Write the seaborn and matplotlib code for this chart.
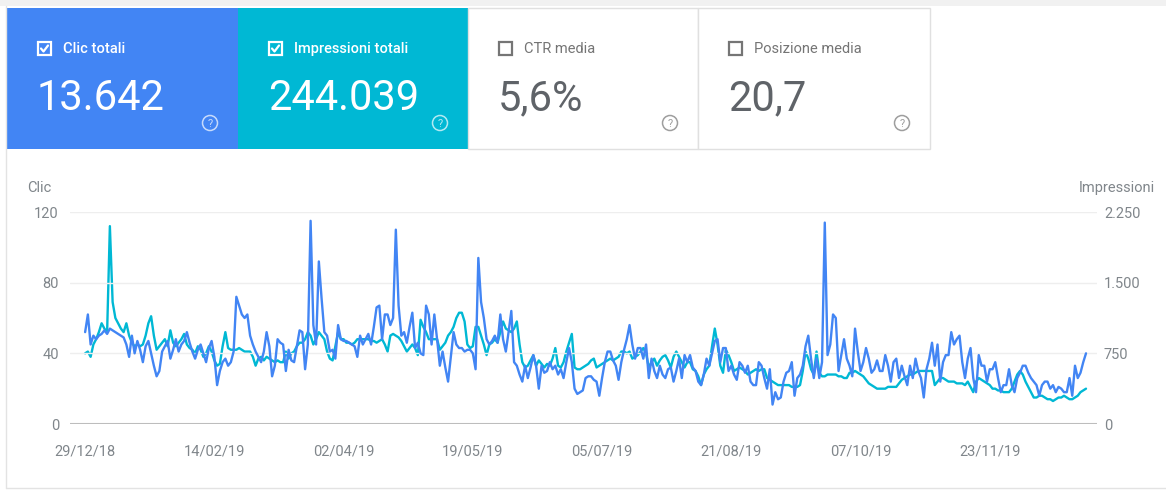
import matplotlib
matplotlib.use("Agg")
import matplotlib.pyplot as plt
from matplotlib.patches import Rectangle, Circle
import pandas as pd
import seaborn as sns

# daily series, 29/12/2018 -> 28/12/2019
start_date = "2018-12-29"

clicks = [
    52, 62, 45, 50, 48, 50, 51, 53, 51, 54,
    53, 52, 51, 50, 49, 45, 38, 50, 40, 47,
    42, 35, 44, 47, 40, 33, 27, 30, 41, 44,
    47, 37, 42, 48, 41, 45, 47, 52, 46, 41,
    37, 42, 45, 40, 35, 43, 47, 38, 22, 30,
    35, 37, 33, 35, 41, 72, 67, 62, 60, 62,
    50, 45, 41, 38, 35, 41, 52, 44, 27, 33,
    48, 46, 45, 30, 42, 36, 35, 44, 53, 52,
    31, 45, 115, 56, 45, 92, 71, 52, 50, 41,
    42, 37, 56, 48, 47, 47, 46, 45, 44, 38,
    50, 45, 48, 51, 45, 55, 66, 67, 48, 62,
    62, 56, 60, 110, 67, 50, 52, 46, 55, 63,
    43, 46, 40, 39, 67, 62, 45, 62, 48, 33,
    41, 32, 24, 38, 52, 45, 43, 43, 41, 42,
    42, 40, 31, 94, 69, 60, 48, 45, 47, 50,
    46, 62, 48, 41, 52, 64, 35, 33, 28, 24,
    33, 26, 32, 39, 33, 20, 33, 29, 30, 35,
    31, 33, 28, 31, 26, 35, 43, 35, 20, 17,
    18, 19, 26, 27, 27, 25, 24, 16, 26, 35,
    41, 41, 36, 33, 25, 35, 42, 48, 56, 45,
    37, 43, 43, 37, 45, 26, 37, 30, 26, 33,
    28, 26, 31, 32, 24, 30, 37, 26, 39, 35,
    39, 32, 30, 24, 22, 28, 37, 33, 40, 47,
    48, 35, 43, 43, 30, 33, 28, 25, 35, 33,
    29, 33, 24, 22, 22, 35, 33, 26, 20, 31,
    11, 18, 14, 15, 24, 29, 30, 35, 16, 26,
    28, 33, 44, 50, 37, 26, 37, 26, 35, 114,
    39, 45, 62, 60, 30, 39, 48, 37, 33, 27,
    54, 41, 30, 35, 43, 37, 29, 31, 36, 30,
    30, 39, 33, 24, 35, 37, 26, 33, 27, 22,
    33, 26, 37, 30, 26, 15, 31, 37, 46, 33,
    45, 24, 35, 39, 39, 52, 45, 48, 50, 35,
    26, 37, 43, 26, 18, 39, 33, 33, 24, 31,
    31, 35, 26, 18, 22, 22, 31, 22, 18, 26,
    29, 33, 33, 29, 26, 24, 22, 16, 22, 24,
    24, 20, 22, 18, 21, 20, 18, 18, 26, 16,
    33, 26, 29, 35, 40,
]

impressions = [
    750, 769, 713, 844, 900, 975, 1069, 1013, 975, 2100,
    1294, 1125, 1069, 1013, 975, 1069, 938, 863, 825, 844,
    825, 844, 938, 1069, 1144, 938, 788, 825, 863, 900,
    825, 994, 863, 825, 863, 900, 956, 844, 806, 788,
    750, 825, 788, 713, 750, 825, 769, 675, 619, 638,
    825, 975, 806, 788, 788, 788, 806, 788, 769, 769,
    769, 713, 619, 694, 713, 675, 713, 694, 675, 656,
    675, 656, 656, 769, 694, 750, 769, 825, 863, 863,
    900, 975, 938, 844, 900, 975, 938, 900, 769, 694,
    675, 825, 975, 900, 900, 863, 863, 844, 863, 900,
    900, 900, 900, 900, 881, 881, 863, 881, 900, 844,
    769, 938, 956, 938, 919, 881, 825, 769, 806, 844,
    806, 731, 1106, 1031, 975, 900, 900, 900, 900, 788,
    825, 863, 938, 975, 1031, 1125, 1181, 1181, 1088, 844,
    806, 825, 1031, 1031, 938, 844, 731, 844, 863, 900,
    863, 975, 1088, 1013, 994, 975, 1013, 1088, 844, 656,
    600, 619, 675, 731, 619, 675, 638, 600, 638, 619,
    694, 806, 619, 600, 656, 769, 863, 956, 600, 581,
    581, 600, 619, 638, 675, 694, 600, 619, 638, 656,
    675, 694, 675, 694, 713, 769, 769, 750, 769, 694,
    713, 731, 769, 806, 750, 600, 656, 694, 619, 675,
    713, 731, 675, 600, 713, 769, 713, 656, 600, 656,
    656, 581, 563, 506, 413, 525, 581, 619, 825, 1013,
    844, 619, 544, 788, 731, 656, 563, 581, 600, 581,
    563, 525, 544, 563, 581, 563, 581, 581, 488, 469,
    450, 431, 413, 413, 413, 413, 413, 394, 394, 394,
    413, 563, 769, 694, 581, 525, 769, 544, 506, 506,
    525, 525, 525, 525, 506, 506, 488, 488, 544, 544,
    563, 544, 525, 506, 469, 431, 413, 394, 375, 375,
    375, 375, 394, 394, 394, 394, 431, 469, 488, 506,
    525, 525, 544, 563, 563, 563, 563, 563, 563, 413,
    450, 488, 488, 469, 450, 450, 450, 431, 431, 431,
    413, 450, 394, 338, 450, 488, 469, 450, 431, 413,
    375, 375, 356, 356, 338, 338, 338, 375, 450, 525,
    563, 525, 450, 394, 338, 281, 281, 300, 300, 281,
    263, 263, 244, 263, 281, 281, 300, 281, 263, 263,
    281, 300, 338, 356, 375,
]

tick_dates = ["2018-12-29", "2019-02-14", "2019-04-02", "2019-05-19",
              "2019-07-05", "2019-08-21", "2019-10-07", "2019-11-23"]
tick_labels = ["29/12/18", "14/02/19", "02/04/19", "19/05/19",
               "05/07/19", "21/08/19", "07/10/19", "23/11/19"]
left_ticks = [0, 40, 80, 120]
right_ticks = [0, 750, 1500, 2250]
right_tick_labels = ["0", "750", "1.500", "2.250"]

tile_titles = ["Clic totali", "Impressioni totali", "CTR media", "Posizione media"]
tile_values = ["13.642", "244.039", "5,6%", "20,7"]
tile_checked = [True, True, False, False]

BLUE = "#4285F4"
TEAL = "#00B8D4"
GRAY = "#80868b"

sns.set_theme(style="white")
plt.rcParams["font.family"] = ["Roboto", "DejaVu Sans"]

W, H = 1166, 491
fig = plt.figure(figsize=(W / 100, H / 100), dpi=100)

# background layer in pixel coordinates for the summary tiles
bg = fig.add_axes([0, 0, 1, 1])
bg.set_xlim(0, W)
bg.set_ylim(H, 0)
bg.axis("off")

bg.add_patch(Rectangle((0, 0), W, 6, fc="#f1f1f1", ec="none"))
bg.plot([6, 6], [6, 488], color="#e3e3e3", lw=1)
bg.plot([6, W], [488, 488], color="#e3e3e3", lw=1)

edges = [7, 238, 468, 698, 930]
tile_fill = [BLUE, TEAL, "white", "white"]
for i in range(4):
    x0, x1 = edges[i], edges[i + 1]
    checked = tile_checked[i]
    fg = "white" if checked else "#5f6368"
    soft = "white" if checked else "#757575"
    ec = "none" if checked else "#e0e0e0"
    bg.add_patch(Rectangle((x0, 8), x1 - x0, 141, fc=tile_fill[i], ec=ec, lw=1))
    # checkbox
    bx = x0 + 31
    bg.add_patch(Rectangle((bx, 42), 13, 13, fc="none", ec=soft, lw=1.6))
    if checked:
        bg.plot([bx + 3, bx + 5.5, bx + 10], [bx * 0 + 48.5, 51.5, 45.5],
                color="white", lw=1.6, solid_capstyle="round")
    bg.text(x0 + 56, 49, tile_titles[i], color=soft, fontsize=10.5,
            fontweight="medium" if checked else "normal", va="center", ha="left")
    bg.text(x0 + 30, 110, tile_values[i], color=fg, fontsize=30,
            va="baseline", ha="left")
    # help icon
    cx = x1 - 28
    qc = "#ffffff" if checked else "#9e9e9e"
    bg.add_patch(Circle((cx, 123), 7.5, fc="none", ec=qc, lw=1.1,
                        alpha=0.7 if checked else 1))
    bg.text(cx, 123.5, "?", color=qc, fontsize=8, ha="center", va="center",
            alpha=0.7 if checked else 1)

# chart
ax = fig.add_axes([70 / W, 1 - 424 / H, (1097 - 70) / W, (424 - 212) / H])
ax2 = ax.twinx()

dates = pd.date_range(start_date, periods=len(clicks), freq="D")
df = pd.DataFrame({"date": dates, "clicks": clicks, "impressions": impressions})

sns.lineplot(data=df, x="date", y="impressions", ax=ax2, color=TEAL, linewidth=1.7)
sns.lineplot(data=df, x="date", y="clicks", ax=ax, color=BLUE, linewidth=1.7)

ax.set_zorder(ax2.get_zorder() + 1)
ax.patch.set_visible(False)

x_lo = pd.Timestamp(start_date) - pd.Timedelta(days=5.5)
x_hi = pd.Timestamp(start_date) + pd.Timedelta(days=368)
ax.set_xlim(x_lo, x_hi)
ax.set_ylim(0, 120)
ax2.set_ylim(0, 2250)

ax.set_yticks(left_ticks)
ax.set_yticklabels([str(t) for t in left_ticks])
ax2.set_yticks(right_ticks)
ax2.set_yticklabels(right_tick_labels)
ax.set_xticks(pd.to_datetime(tick_dates))
ax.set_xticklabels(tick_labels)

for a in (ax, ax2):
    for s in a.spines.values():
        s.set_visible(False)
    a.set_xlabel("")
    a.set_ylabel("")
    a.grid(False)

for y in left_ticks[1:]:
    ax.axhline(y, color="#eeeeee", lw=1, zorder=0)
ax.axhline(0, color="#bdbdbd", lw=1.5, zorder=0)

ax.tick_params(axis="y", length=0, pad=8, labelsize=10.5, labelcolor=GRAY)
ax.tick_params(axis="x", length=0, pad=15, labelsize=10.5, labelcolor=GRAY)
ax2.tick_params(axis="y", length=0, pad=5, labelsize=10.5, labelcolor=GRAY)

bg.text(27, 188, "Clic", color=GRAY, fontsize=10.5, ha="left", va="center")
bg.text(1155, 188, "Impressioni", color=GRAY, fontsize=10.5, ha="right", va="center")

fig.savefig("out.png", dpi=100, facecolor="white")
